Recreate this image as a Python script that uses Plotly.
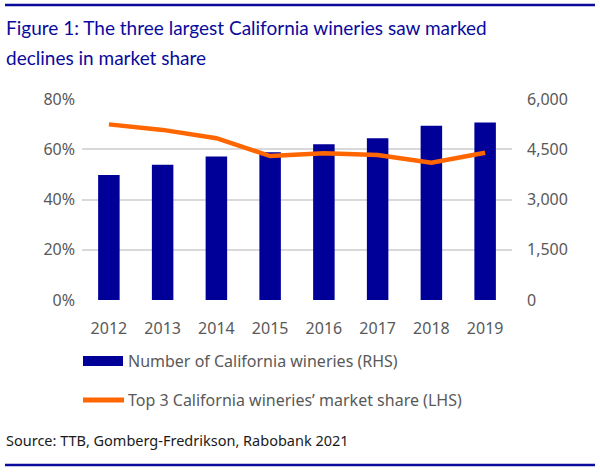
import plotly.graph_objects as go

years = ["2012", "2013", "2014", "2015", "2016", "2017", "2018", "2019"]
wineries = [3730, 4040, 4280, 4410, 4650, 4830, 5200, 5300]
share = [69.9, 67.7, 64.4, 57.3, 58.4, 57.7, 54.6, 58.6]
left_ticks = [0, 20, 40, 60, 80]
right_ticks = [0, 1500, 3000, 4500, 6000]

BLUE = "#000099"
ORANGE = "#FF6600"
GRAY = "#595959"
TITLE_BLUE = "#0A0A9C"
FONT = "Noto Sans"
TFONT = "Lato"

fig = go.Figure()
# Bars on primary axis (drawn under), line on overlaying axis (drawn on top)
fig.add_trace(go.Bar(x=years, y=wineries, yaxis="y", marker=dict(color=BLUE, line=dict(width=0)),
                     name="Number of California wineries (RHS)", width=0.4, showlegend=False))
fig.add_trace(go.Scatter(x=years, y=share, yaxis="y2", mode="lines",
                         line=dict(color=ORANGE, width=4.5), name="Top 3 California wineries’ market share (LHS)",
                         showlegend=False))

fig.update_layout(
    width=600, height=473,
    margin=dict(l=82, r=88, t=99, b=173),
    paper_bgcolor="white", plot_bgcolor="white",
    font=dict(family=FONT, color=GRAY, size=16),
    xaxis=dict(showgrid=False, showline=False, ticks="", ticklabelstandoff=17,
               tickfont=dict(size=16, color=GRAY)),
    yaxis=dict(range=[0, 6000], tickvals=right_ticks, ticktext=[f"{v:,}" for v in right_ticks],
               side="right", showgrid=True, gridcolor="#D9D9D9", gridwidth=2, zeroline=False, ticks="",
               ticklabelstandoff=14, tickfont=dict(size=16, color=GRAY)),
    yaxis2=dict(range=[0, 80], tickvals=left_ticks, ticktext=[f"{v}%" for v in left_ticks],
                overlaying="y", side="left", showgrid=False, zeroline=False, ticks="",
                ticklabelstandoff=6, tickfont=dict(size=16, color=GRAY)),
    showlegend=False,
    bargap=0.6,
)


def px(xp):
    return (xp - 82) / 430


def py(yp):
    return (300 - yp) / 201


# Title (two lines)
fig.add_annotation(text="Figure 1: The three largest California wineries saw marked",
                   xref="paper", yref="paper", x=px(4), y=py(27), xanchor="left", yanchor="middle",
                   showarrow=False, font=dict(family=TFONT, size=19, color=TITLE_BLUE))
fig.add_annotation(text="declines in market share",
                   xref="paper", yref="paper", x=px(4), y=py(58), xanchor="left", yanchor="middle",
                   showarrow=False, font=dict(family=TFONT, size=19, color=TITLE_BLUE))

# Top and bottom rules
fig.add_shape(type="line", xref="paper", yref="paper", x0=px(5), x1=px(595), y0=py(5), y1=py(5),
              line=dict(color=TITLE_BLUE, width=2.5))
fig.add_shape(type="line", xref="paper", yref="paper", x0=px(5), x1=px(595), y0=py(465), y1=py(465),
              line=dict(color=TITLE_BLUE, width=2.5))

# Custom legend
fig.add_shape(type="rect", xref="paper", yref="paper", x0=px(83), x1=px(123), y0=py(366), y1=py(356),
              fillcolor=BLUE, line=dict(width=0))
fig.add_annotation(text="Number of California wineries (RHS)", xref="paper", yref="paper",
                   x=px(126), y=py(361), xanchor="left", yanchor="middle", showarrow=False,
                   font=dict(family=FONT, size=16, color=GRAY))
fig.add_shape(type="line", xref="paper", yref="paper", x0=px(83), x1=px(124), y0=py(400), y1=py(400),
              line=dict(color=ORANGE, width=5))
fig.add_annotation(text="Top 3 California wineries’ market share (LHS)", xref="paper", yref="paper",
                   x=px(126), y=py(400), xanchor="left", yanchor="middle", showarrow=False,
                   font=dict(family=FONT, size=16, color=GRAY))

# Source
fig.add_annotation(text="Source: TTB, Gomberg-Fredrikson, Rabobank 2021", xref="paper", yref="paper",
                   x=px(4), y=py(440), xanchor="left", yanchor="middle", showarrow=False,
                   font=dict(family=FONT, size=14.5, color="#1A1A1A"))

fig.write_html("out.html")
